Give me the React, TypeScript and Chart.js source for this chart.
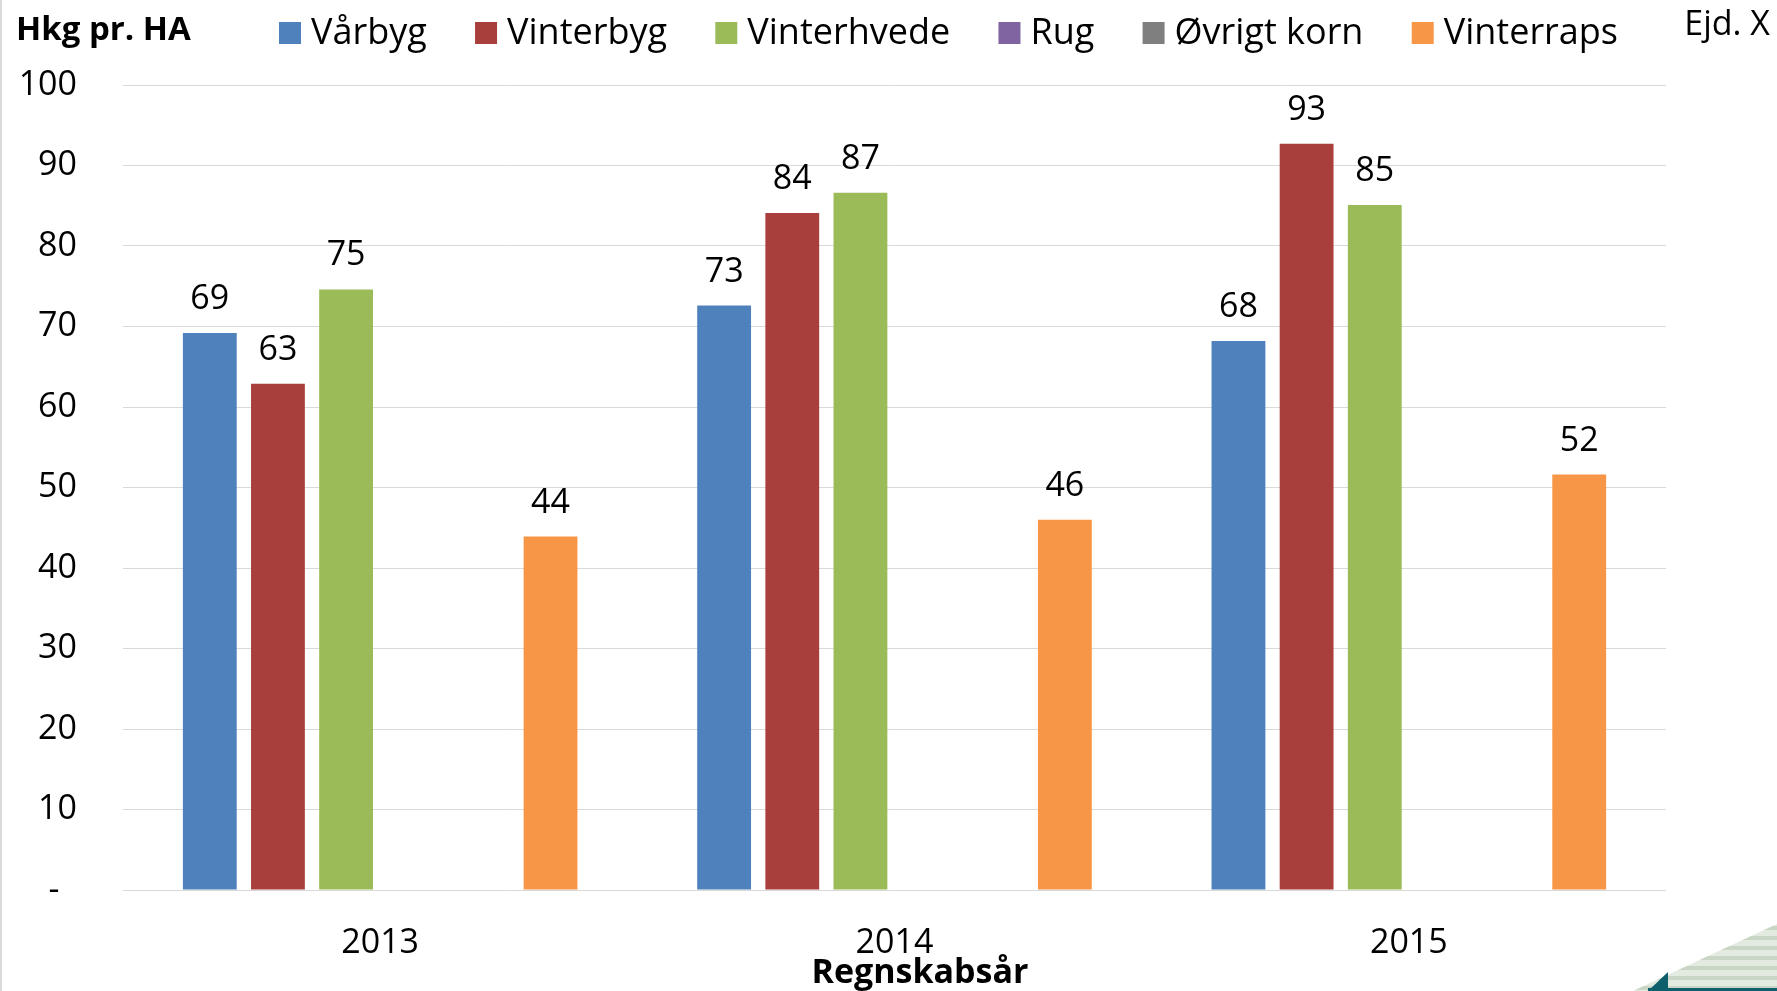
import React, { useEffect, useRef } from 'react';
import { Chart, registerables } from 'chart.js';

Chart.register(...registerables);

// ---- Data ----
const categories = ['2013', '2014', '2015'];
const seriesNames = ['Vårbyg', 'Vinterbyg', 'Vinterhvede', 'Rug', 'Øvrigt korn', 'Vinterraps'];
const vaarbyg = [69.2, 72.6, 68.2];
const vinterbyg = [62.9, 84.1, 92.7];
const vinterhvede = [74.6, 86.6, 85.1];
const rug = [null, null, null];
const oevrigtKorn = [null, null, null];
const vinterraps = [43.9, 46.0, 51.6];
const seriesColors = ['#4f81bd', '#a93f3c', '#9bbb59', '#8064a2', '#7f7f7f', '#f79646'];
const yMin = 0;
const yMax = 100;
const yStep = 10;
const yTitle = 'Hkg pr. HA';
const xTitle = 'Regnskabsår';
const cornerNote = 'Ejd. X';

const FONT = "'Open Sans', sans-serif";
const W = 1777;
const H = 991;

const decorPlugin = {
  id: 'decor',
  beforeDraw(chart: any) {
    const ctx = chart.ctx;
    ctx.save();
    ctx.fillStyle = '#ffffff';
    ctx.fillRect(0, 0, chart.width, chart.height);
    ctx.fillStyle = '#d9d9d9';
    ctx.fillRect(0, 0, 2, chart.height);
    ctx.restore();
  },
  afterDatasetsDraw(chart: any) {
    const ctx = chart.ctx;
    ctx.save();
    ctx.font = `34px ${FONT}`;
    ctx.fillStyle = '#000000';
    ctx.textAlign = 'center';
    ctx.textBaseline = 'alphabetic';
    chart.data.datasets.forEach((ds: any, i: number) => {
      const meta = chart.getDatasetMeta(i);
      meta.data.forEach((el: any, j: number) => {
        const v = ds.data[j];
        if (v === null || v === undefined) return;
        ctx.fillText(String(Math.round(v)), el.x, el.y - 24);
      });
    });
    ctx.restore();
  },
  afterDraw(chart: any) {
    const ctx = chart.ctx;
    ctx.save();
    // Y title
    ctx.fillStyle = '#000000';
    ctx.font = `bold 33px ${FONT}`;
    ctx.textAlign = 'left';
    ctx.textBaseline = 'alphabetic';
    ctx.fillText(yTitle, 16, 40);
    // X title
    ctx.font = `bold 34px ${FONT}`;
    ctx.textAlign = 'center';
    ctx.fillText(xTitle, 920, 983);
    // corner note
    ctx.font = `34px ${FONT}`;
    ctx.textAlign = 'right';
    ctx.fillText(cornerNote, 1770, 35);

    // Legend
    ctx.font = `36px ${FONT}`;
    ctx.textAlign = 'left';
    const startX = 279;
    const endX = 1618;
    const box = 22;
    const boxGap = 10;
    const widths = chart.data.datasets.map((ds: any) => ctx.measureText(ds.label).width);
    const used = widths.reduce((a: number, w: number) => a + box + boxGap + w, 0);
    const gap = (endX - startX - used) / (widths.length - 1);
    let x = startX;
    const cy = 33;
    chart.data.datasets.forEach((ds: any, i: number) => {
      ctx.fillStyle = ds.backgroundColor;
      ctx.fillRect(x, cy - box / 2, box, box);
      ctx.fillStyle = '#000000';
      ctx.textBaseline = 'middle';
      ctx.fillText(ds.label, x + box + boxGap, cy + 1);
      x += box + boxGap + widths[i] + gap;
    });

    // bottom-right decoration
    ctx.beginPath();
    ctx.moveTo(1633, H);
    ctx.lineTo(W, 924);
    ctx.lineTo(W, H);
    ctx.closePath();
    ctx.fillStyle = '#e3eae0';
    ctx.fill();
    ctx.save();
    ctx.clip();
    ctx.fillStyle = '#c9d6c5';
    for (let yy = 926; yy < H; yy += 10) {
      ctx.fillRect(1600, yy, 200, 4);
    }
    ctx.restore();
    ctx.fillStyle = '#0d5f6b';
    ctx.beginPath();
    ctx.moveTo(1648, H);
    ctx.lineTo(1668, 972);
    ctx.lineTo(1668, H);
    ctx.closePath();
    ctx.fill();
    ctx.fillRect(1648, 988, W - 1648, 3);
    ctx.restore();
  },
};

export default function App() {
  const ref = useRef<HTMLCanvasElement | null>(null);
  useEffect(() => {
    if (!ref.current) return;
    const allSeries = [vaarbyg, vinterbyg, vinterhvede, rug, oevrigtKorn, vinterraps];
    const chart = new Chart(ref.current, {
      type: 'bar',
      data: {
        labels: categories,
        datasets: allSeries.map((d, i) => ({
          label: seriesNames[i],
          data: d as any,
          backgroundColor: seriesColors[i],
          borderWidth: 0,
          categoryPercentage: 0.795,
          barPercentage: 0.79,
        })),
      },
      options: {
        responsive: false,
        animation: false,
        devicePixelRatio: 1,
        layout: { padding: { left: 8, top: 85, right: 111, bottom: 0 } },
        plugins: {
          legend: { display: false },
          title: { display: false },
          tooltip: { enabled: false },
        },
        scales: {
          x: {
            grid: { display: false, drawTicks: false },
            border: { display: false },
            ticks: { color: '#000000', font: { family: FONT, size: 34 }, padding: 33 },
            afterFit: (s: any) => { s.height = 101; },
          },
          y: {
            min: yMin,
            max: yMax,
            grid: { color: '#d9d9d9', lineWidth: 1, drawTicks: false },
            border: { display: false },
            ticks: {
              stepSize: yStep,
              color: '#000000',
              font: { family: FONT, size: 34 },
              padding: 46,
              callback: (v: any) => (Number(v) === 0 ? '-  ' : String(v)),
            },
            afterFit: (s: any) => { s.width = 115; },
          },
        },
      },
      plugins: [decorPlugin],
    });
    return () => chart.destroy();
  }, []);
  return (
    <canvas
      ref={ref}
      width={W}
      height={H}
      style={{ position: 'fixed', left: 0, top: 0, width: W, height: H }}
    />
  );
}
